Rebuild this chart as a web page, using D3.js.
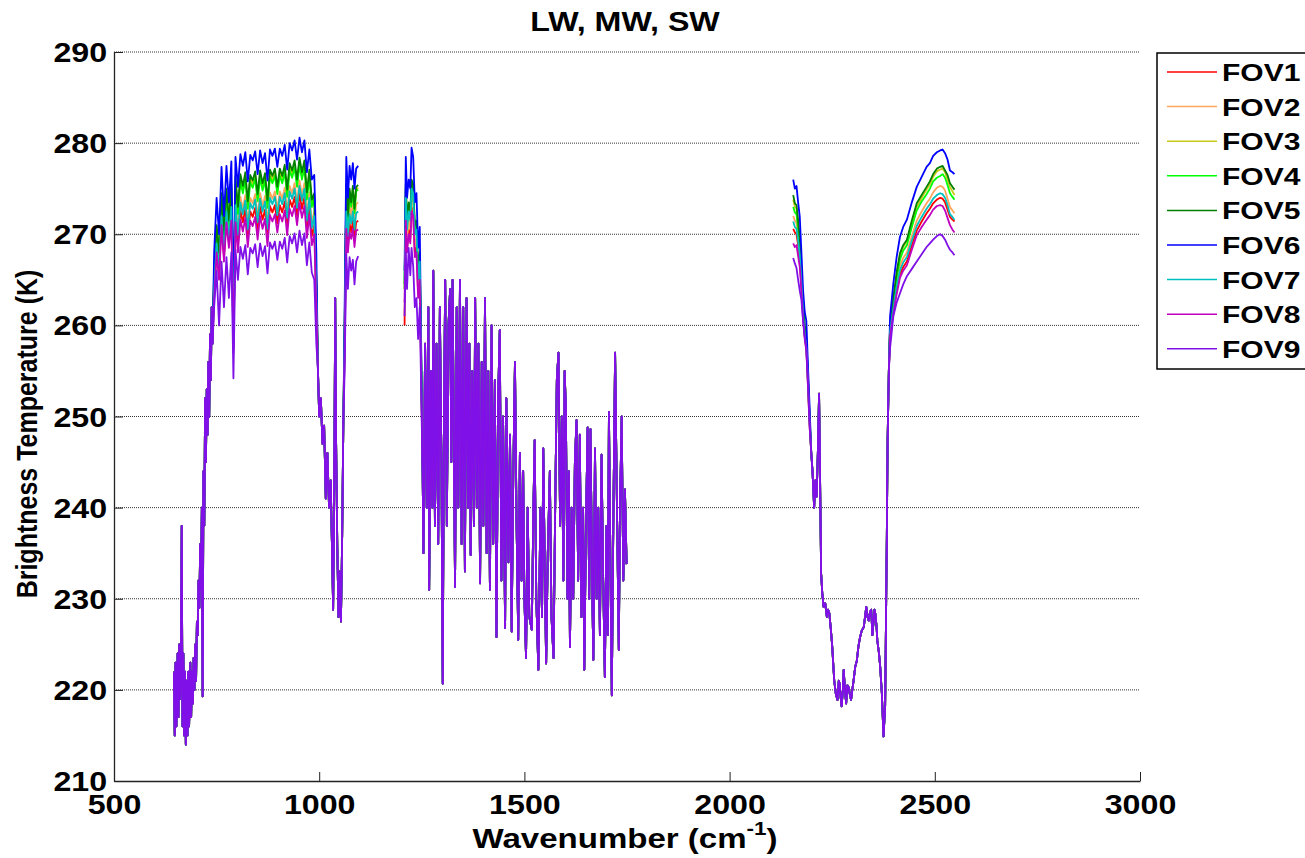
<!DOCTYPE html>
<html>
<head>
<meta charset="utf-8">
<script src="https://cdn.jsdelivr.net/npm/d3@7"></script>
<style>
body { margin: 0; background: #fff; }
text { font-family: "Liberation Sans", Arial, sans-serif; font-weight: bold; }
</style>
</head>
<body>
<svg id="chart" width="1305" height="858"></svg>
<script>
// ---- data ----
const fovNames = ["FOV1", "FOV2", "FOV3", "FOV4", "FOV5", "FOV6", "FOV7", "FOV8", "FOV9"];
const fovColors = ["#ff0000", "#ffa65c", "#c9c918", "#00ff00", "#008000", "#0000ff", "#00bfbf", "#bf00bf", "#7f10e8"];
const xTicks = [500, 1000, 1500, 2000, 2500, 3000];
const yTicks = [210, 220, 230, 240, 250, 260, 270, 280, 290];

// LW CO2 band, all FOVs overlap here
const co2Wn = [646,648,650,652,655,657,659,661,663,665,667,669,671,673,675,677,679,681,683,686,688,690,692,694,696,698,700,702,704,706,708,710,712,714,716,718,720,722,724,726,728,730,732,734,736,738,740];
const co2Bt = [222,215,223,216,224,217,225,219,223,238,216,224,215,222,214,221,215,222,216,223,217,222,218.5,223.5,220,225,221,227.5,226,232,229,236,231,240,219.3,244,238,252,245,253,248,256,250,259,254,262,258];

// LW window, one row per FOV
const winWn = [744,750,756,762,768,774,780,786,791,796,802,808,814,820,826,832,838,844,850,856,862,868,874,880,886,892,898,904,910,916,922,928,934,940,946,952,958,964,970,976,982,988,993];
const winBt = [
  [263.5,268.5,265.5,271.5,267.5,272,269,272.3,257.5, 272.3,269,272.6,271.3,272.8,269.6,272.5,271.9,272.9,270.4,273,271.6,272.7,269.7,273.1,272.4,273.2,271.2,273.2,272.4,273.6,270.9,273.8,273,274.1,272,274.4,272.8,274.1,270.6,273.1,269.8,271,262.5],
  [264.5,269.5,266.5,272.5,268.5,273,270,273.5,258.5, 273.8,270.5,274.1,272.8,274.3,271.1,274,273.4,274.4,271.9,274.5,273.1,274.2,271.2,274.6,273.9,274.7,272.7,274.7,273.9,275.1,272.4,275.3,274.5,275.6,273.5,275.9,274.3,275.6,272.1,274.6,271.3,272.5,263.5],
  [265.8,270.8,267.8,274.2,269.8,274.8,271.2,275.2,259.8, 275.9,272.6,276.2,274.9,276.4,273.2,276.1,275.5,276.5,274,276.6,275.2,276.3,273.3,276.7,276,276.8,274.8,276.8,276,277.2,274.5,277.4,276.6,277.7,275.6,278,276.4,277.7,274.2,276.7,273.4,274.2,264.8],
  [265.5,270.5,267.5,274,269.5,274.5,271,275,259.5, 275.5,272.2,275.8,274.5,276,272.8,275.7,275.1,276.1,273.6,276.2,274.8,275.9,272.9,276.3,275.6,276.4,274.4,276.4,275.6,276.8,274.1,277,276.2,277.3,275.2,277.6,276,277.3,273.8,276.3,273,274,264.5],
  [266,271,268,274.5,270,275,271.5,275.5,260, 276.3,273,276.6,275.3,276.8,273.6,276.5,275.9,276.9,274.4,277,275.6,276.7,273.7,277.1,276.4,277.2,275.2,277.2,276.4,277.6,274.9,277.8,277,278.1,276,278.4,276.8,278.1,274.6,277.1,273.8,274.5,265],
  [268,274,270,277.4,272,277.5,273.5,278,262, 278.5,275.2,278.8,277.5,279,275.8,278.7,278.1,279.1,276.6,279.2,277.8,278.9,275.9,279.3,278.6,279.4,277.4,279.4,278.6,279.8,277.1,280,279.2,280.3,278.2,280.6,279,280.3,276.8,279.3,276,276.5,268],
  [264,269,266,272,268,272.5,269.5,273,258, 273.2,269.9,273.5,272.2,273.7,270.5,273.4,272.8,273.8,271.3,273.9,272.5,273.6,270.6,274,273.3,274.1,272.1,274.1,273.3,274.5,271.8,274.7,273.9,275,272.9,275.3,273.7,275,271.5,274,270.7,272,263],
  [263,268,265,271,267,271.3,268.5,271.5,257, 271.3,268,271.6,270.3,271.8,268.6,271.5,270.9,271.9,269.4,272,270.6,271.7,268.7,272.1,271.4,272.2,270.2,272.2,271.4,272.6,269.9,272.8,272,273.1,271,273.4,271.8,273.1,269.6,272.1,268.8,270,262],
  [262,266,260,267,262,267.5,263,268,254.2, 268.3,265,268.6,267.3,268.8,265.6,268.5,267.9,268.9,266.4,269,267.6,268.7,265.7,269.1,268.4,269.2,267.2,269.2,268.4,269.6,266.9,269.8,269,270.1,268,270.4,268.8,270.1,266.6,269.1,265.8,265,258]
];

// ozone band, shared
const o3Wn = [997,1000,1004,1008,1012,1016,1020,1024,1028,1031,1034,1037,1039,1041,1044,1047,1050,1053,1056,1059];
const o3Bt = [255,250,252,247,249,241,246,240,243,236,228.8,245,263,248,236,228,233,227.5,237,250];

// end of LW band, one row per FOV
const lwEndWn = [1062,1066,1070,1074,1078,1082,1086,1090,1095];
const lwEndBt = [
  [257.5,271.5,268.8,271.2,270.2,271.5,269.5,271.3,271.5],
  [258.5,273.5,270.5,273.2,272,273.5,271.3,273.3,273.5],
  [259.8,275,271.8,274.7,273.2,275,272.5,274.9,275.1],
  [259.5,274.8,271.5,274.5,273,274.8,272.3,274.7,274.9],
  [260,275.5,272,275,273.5,275.3,272.8,275.2,275.4],
  [262,278.5,274,277.5,276,277.8,275,277.2,277.5],
  [258,272.5,269.8,272.2,271.2,272.5,270.5,272.3,272.5],
  [257,270.6,268,270.2,269.5,270.6,268.6,270.4,270.5],
  [255,267.8,264,267.5,266,267.2,264.5,267,267.6]
];

// start of MW band, one row per FOV
const mwStartWn = [1208,1211,1214,1218,1222,1225,1229,1233,1237,1241,1245,1249];
const mwStartBt = [
  [260,272,268.5,270.5,269.5,273,272.5,268,268.5,263.5,265.5,253.5],
  [261,273,269.5,271.5,270.5,274,273.5,269,269.5,264.5,266.5,254],
  [264,275.2,271.2,273.2,272.2,275.7,275.2,270.7,271.2,265.7,267.7,254.7],
  [264,275,271,273,272,275.5,275,270.5,271,265.5,267.5,254.5],
  [264.5,275.5,271.5,273.5,272.5,276,275.5,271,271.5,266,268,255],
  [266,278.5,274,276,275,279.5,278.5,273.5,274.5,268.5,270.8,256],
  [265,274,270.5,272.5,271.5,275,274.5,270,270.5,265,267,254.5],
  [262.5,271.5,268,270,269,272.5,272,267.5,268,263,265,253],
  [261,268,264,268.5,265.5,268.5,266.5,262,263,258.5,262,251.5]
];

// MW water vapour band, shared
const mwWn = [1252,1254,1258,1262,1266,1268,1272,1276,1278,1282,1286,1290,1294,1298,1301,1304,1307,1311,1315,1319,1322,1325,1328,1331,1335,1339,1343,1347,1351,1355,1359,1363,1366,1369,1373,1377,1380,1384,1388,1392,1396,1400,1404,1408,1412,1416,1420,1424,1428,1432,1436,1440,1444,1448,1453,1456,1461,1465,1469,1473,1477,1481,1485,1489,1493,1497,1500,1504,1508,1512,1518,1522,1525,1529,1534,1539,1543,1546,1550,1553,1557,1562,1566,1571,1575,1579,1583,1587,1591,1595,1598,1601,1605,1608,1611,1615,1619,1623,1627,1631,1635,1639,1643,1646,1650,1654,1658,1661,1665,1668,1672,1676,1680,1684,1688,1692,1696,1700,1703,1706,1710,1713,1717,1721,1725,1730,1733,1737,1741,1745,1749];
const mwBt = [244,235,258,240,262,231,255,240,266,238,258,236,262,244,220.7,250,265,238,260,264,245,265,248,231.3,262,240,265,236,262,233,263,240,258,234.8,255,238,263,240,258,231.7,256,238,263,235,255,231,260,236,254,225.8,252,259.5,232,250,226.8,252,234,248,226.4,244,256,238,225.5,246,232,244,230,223.5,240,228,226.6,240,247.4,230,222.2,240,228,246.5,232,222.9,235,244,228,223.5,240,254,257,238,250,232,255,251,230,244,224.7,240,230,245,249.6,232,248,228,240,222.2,238,248.8,230,248.6,232,223.3,246.5,230,240,226,245.8,232,221.4,238,226,250.5,232,219.4,240,257,242,224.4,240,250,232,242,233.8];

// start of SW band, one row per FOV
const swStartWn = [2155,2159,2163,2167,2171,2175,2179,2183,2187,2191,2195];
const swStartBt = [
  [270.6,270.2,270,268.8,267.2,264.3,261,258.8,257.4,253.4,249],
  [272,271.5,271.2,269.8,268,265,261.6,259.3,257.8,253.8,249.4],
  [273.8,273,272.8,271,269,265.7,262.2,259.8,258.3,254.2,249.8],
  [273,272.4,272.2,270.6,268.6,265.4,262,259.6,258.1,254,249.6],
  [274.3,273.4,273.2,271.5,269.5,266,262.5,260,258.5,254.5,250],
  [276,275,275.3,273.5,271.9,268,263.9,261.5,260.5,255.5,251],
  [271.4,270.8,270.6,269.3,267.6,264.7,261.3,259,257.6,253.6,249.2],
  [269,268.6,268.8,267.6,266.4,263.8,260.6,258.5,257.2,253.2,248.8],
  [267.4,266.8,266.3,265,263.8,262.8,260.5,258.8,257.5,254,249.5]
];

// SW CO2 / N2O region, shared
const swWn = [2199,2202,2206,2209,2212,2215,2218,2220,2223,2226,2229,2233,2237,2240,2243,2247,2250,2253,2255,2259,2263,2266,2268,2271,2273,2276,2278,2281,2284,2287,2290,2293,2296,2299,2302,2306,2310,2314,2318,2322,2327,2330,2333,2336,2339,2342,2345,2348,2351,2353,2355,2358,2360,2364,2367,2371,2375,2379,2383,2385,2388];
const swBt = [246,244,240,243,241.2,246,252.5,245,232.8,230.5,229.1,229.5,228,228.8,228.4,226.5,224.8,222.5,221,219.5,218.9,221,220.7,219,218.2,220,222.2,220,218.5,220.5,220.3,219.5,218.9,220,221,222.5,223.2,224.8,225.8,226.5,226.9,228,229.1,228,227.6,228.5,228.8,226,227.6,228.8,228.4,227,225.4,224,222.5,219.6,214.9,218.2,236.4,247.4,255];

// SW window, one row per FOV
const swEndWn = [2391,2399,2407,2415,2423,2432,2444,2456,2468,2480,2488,2496,2505,2513,2519,2525,2531,2537,2543,2548];
const swEndBt = [
  [259,261.6,263.8,265.6,266.4,267,268.8,270.4,271.4,272.3,272.8,273.4,273.8,274,273.9,273.5,272.7,271.9,271.6,271.4],
  [259.5,262.2,264.6,266.5,267.4,268,269.8,271.5,272.5,273.4,273.9,274.6,275.1,275.3,275.2,274.8,273.9,273,272.6,272.3],
  [260,263,265.6,267.6,268.6,269.2,271.2,273,274,274.9,275.5,276.3,276.9,277.1,277.2,276.8,276,275.2,274.7,274.3],
  [259.8,262.7,265.2,267.2,268.2,268.8,270.8,272.6,273.6,274.4,275,275.8,276.2,276.4,276.6,276.2,275.4,274.5,274.1,273.8],
  [260,263,265.8,267.9,268.8,269.4,271.5,273.4,274.3,275.2,275.8,276.6,277.2,277.4,277.5,277,276.5,275.6,275.2,274.9],
  [261,264.6,267.5,269.7,270.8,271.6,273.5,275.2,276.3,277.4,277.8,278.6,279,279.2,279.3,278.9,278.2,277,276.8,276.6],
  [259.3,261.9,264.2,266,266.9,267.5,269.3,270.9,271.9,272.8,273.3,273.9,274.3,274.5,274.4,274,273.2,272.2,271.9,271.6],
  [258.8,261.3,263.4,265.2,266,266.6,268.3,269.9,270.8,271.6,272.1,272.7,273.1,273.2,273.1,272.6,271.8,271,270.5,270.2],
  [257.5,261,262.5,263.5,264.5,265.4,266.2,267,267.8,268.6,269,269.4,269.8,270,269.8,269.4,268.8,268.3,268,267.7]
];

// ---- chart ----
const svg = d3.select('#chart');
const plotLeft = 114, plotRight = 1140, plotTop = 52, plotBottom = 781;

const x = d3.scaleLinear().domain([500, 3000]).range([plotLeft, plotRight]);
const y = d3.scaleLinear().domain([210, 290]).range([plotBottom, plotTop]);

function pairs(wn, bt) {
	return wn.map((w, k) => [w, bt[k]]);
}

// one FOV = three bands, null splits them
function fovSeries(i) {
	return [].concat(
		pairs(co2Wn, co2Bt), pairs(winWn, winBt[i]), pairs(o3Wn, o3Bt), pairs(lwEndWn, lwEndBt[i]),
		[null],
		pairs(mwStartWn, mwStartBt[i]), pairs(mwWn, mwBt),
		[null],
		pairs(swStartWn, swStartBt[i]), pairs(swWn, swBt), pairs(swEndWn, swEndBt[i])
	);
}

// dotted grid
svg.append('g')
	.selectAll('line')
	.data(yTicks.filter(t => t > 210))
	.enter()
	.append('line')
	.attr('x1', plotLeft)
	.attr('x2', plotRight)
	.attr('y1', d => y(d))
	.attr('y2', d => y(d))
	.attr('stroke', '#333')
	.attr('stroke-width', 1)
	.attr('stroke-dasharray', '1,1');

const lineFun = d3.line()
	.defined(d => d !== null)
	.x(d => x(d[0]))
	.y(d => y(d[1]))
	.curve(d3.curveLinear);

svg.append('g')
	.selectAll('path')
	.data(fovNames.map((n, i) => i))
	.enter()
	.append('path')
	.attr('d', i => lineFun(fovSeries(i)))
	.attr('stroke', i => fovColors[i])
	.attr('stroke-width', 1.8)
	.attr('stroke-linejoin', 'round')
	.attr('fill', 'none');

// axes, ticks pointing inward
const xAxis = d3.axisBottom(x).tickValues(xTicks).tickFormat(d3.format('d')).tickSizeInner(-9).tickSizeOuter(0).tickPadding(0);
const yAxis = d3.axisLeft(y).tickValues(yTicks).tickFormat(d3.format('d')).tickSizeInner(-9).tickSizeOuter(0).tickPadding(6);

svg.append('g')
	.attr('transform', `translate(0,${plotBottom})`)
	.call(xAxis)
	.call(g => g.select('.domain').attr('stroke', '#222').attr('stroke-width', 1.3))
	.call(g => g.selectAll('.tick line').attr('stroke', '#222'))
	.call(g => g.selectAll('text')
		.attr('y', 33).attr('dy', 0)
		.attr('font-size', 28)
		.attr('fill', '#000')
		.attr('font-family', '"Liberation Sans", Arial, sans-serif')
		.attr('font-weight', 'bold')
		.attr('transform', 'scale(1.15,1)'));

svg.append('g')
	.attr('transform', `translate(${plotLeft},0)`)
	.call(yAxis)
	.call(g => g.select('.domain').attr('stroke', '#222').attr('stroke-width', 1.3))
	.call(g => g.selectAll('.tick line').attr('stroke', '#222'))
	.call(g => g.selectAll('text')
		.attr('dy', '0.34em')
		.attr('font-size', 28)
		.attr('fill', '#000')
		.attr('font-family', '"Liberation Sans", Arial, sans-serif')
		.attr('font-weight', 'bold')
		.attr('transform', 'scale(1.15,1)'));

// title and labels
svg.append('text')
	.attr('transform', 'translate(625,31) scale(1.15,1)')
	.attr('text-anchor', 'middle')
	.attr('font-size', 28)
	.text('LW, MW, SW');

const xl = svg.append('text')
	.attr('transform', 'translate(625,848) scale(1.18,1)')
	.attr('text-anchor', 'middle')
	.attr('font-size', 28);
xl.append('tspan').text('Wavenumber (cm');
xl.append('tspan').attr('font-size', 19).attr('dy', -13).text('-1');
xl.append('tspan').attr('dy', 13).text(')');

svg.append('text')
	.attr('transform', 'translate(37,434) rotate(-90) scale(1,1.15)')
	.attr('text-anchor', 'middle')
	.attr('font-size', 25)
	.text('Brightness Temperature (K)');

// legend
const lg = svg.append('g');
lg.append('rect')
	.attr('x', 1157)
	.attr('y', 53)
	.attr('width', 200)
	.attr('height', 316)
	.attr('fill', '#fff')
	.attr('stroke', '#000')
	.attr('stroke-width', 1.5);

const rows = lg.selectAll('g.row')
	.data(fovNames)
	.enter()
	.append('g')
	.attr('class', 'row')
	.attr('transform', (d, i) => `translate(0,${72 + i * 34.6})`);

rows.append('line')
	.attr('x1', 1167)
	.attr('x2', 1217)
	.attr('stroke', (d, i) => fovColors[i])
	.attr('stroke-width', 1.5);

rows.append('text')
	.attr('transform', 'translate(1222,9) scale(1.25,1)')
	.attr('font-size', 24)
	.text(d => d);
</script>
</body>
</html>
